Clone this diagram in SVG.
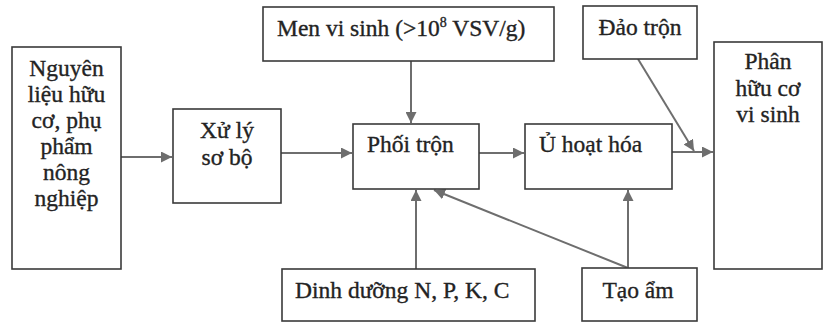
<svg xmlns="http://www.w3.org/2000/svg" width="825" height="323" viewBox="0 0 825 323">
<style>
.box{fill:#fff;stroke:#3a3a3a;stroke-width:1.6}
.t{font-family:"Liberation Serif","Times New Roman",serif;font-size:23.5px;fill:#232323;stroke:#232323;stroke-width:0.35}
.c{text-anchor:middle}
.ln{stroke:#6e6e6e;stroke-width:2;fill:none;marker-end:url(#ah)}
</style>
<defs>
<marker id="ah" viewBox="0 0 10 10" refX="10" refY="5" markerWidth="5.5" markerHeight="5.5" orient="auto" markerUnits="strokeWidth">
<path d="M0,0 L10,5 L0,10 z" fill="#6e6e6e"/>
</marker>
</defs>
<rect width="825" height="323" fill="#fff"/>
<g id="connectors">
<line class="ln" x1="121" y1="157" x2="172" y2="157"/>
<line class="ln" x1="281" y1="153" x2="352" y2="153"/>
<line class="ln" x1="411" y1="61" x2="411" y2="123"/>
<line class="ln" x1="479" y1="153" x2="524" y2="153"/>
<line class="ln" x1="672" y1="152" x2="713" y2="152"/>
<line class="ln" x1="638" y1="59" x2="694" y2="151"/>
<line class="ln" x1="416" y1="269" x2="416" y2="190"/>
<line class="ln" x1="628" y1="268" x2="628" y2="190"/>
<line class="ln" x1="628" y1="268" x2="434" y2="190"/>
</g>
<g id="n1">
<rect class="box" x="12" y="47" width="109" height="222"/>
<text class="t c" x="66.5" y="76">Nguyên</text>
<text class="t c" x="66.5" y="102">liệu hữu</text>
<text class="t c" x="66.5" y="128">cơ, phụ</text>
<text class="t c" x="66.5" y="154">phẩm</text>
<text class="t c" x="66.5" y="180">nông</text>
<text class="t c" x="66.5" y="206">nghiệp</text>
</g>
<g id="n2">
<rect class="box" x="173" y="109" width="108" height="94"/>
<text class="t c" x="227" y="138">Xử lý</text>
<text class="t c" x="227" y="165">sơ bộ</text>
</g>
<g id="n3">
<rect class="box" x="263" y="7" width="291" height="54"/>
<text class="t" x="277" y="36">Men vi sinh (&gt;10<tspan font-size="14" dy="-9">8</tspan><tspan dy="9"> VSV/g)</tspan></text>
</g>
<g id="n4">
<rect class="box" x="353" y="124" width="126" height="65"/>
<text class="t" x="367" y="152">Phối trộn</text>
</g>
<g id="n5">
<rect class="box" x="525" y="124" width="147" height="65"/>
<text class="t" x="539" y="152">Ủ hoạt hóa</text>
</g>
<g id="n6">
<rect class="box" x="583" y="6" width="114" height="53"/>
<text class="t c" x="640" y="35">Đảo trộn</text>
</g>
<g id="n7">
<rect class="box" x="714" y="42" width="108" height="227"/>
<text class="t c" x="768" y="69">Phân</text>
<text class="t c" x="768" y="96">hữu cơ</text>
<text class="t c" x="768" y="122">vi sinh</text>
</g>
<g id="n8">
<rect class="box" x="282" y="269" width="253" height="52"/>
<text class="t" x="295" y="298">Dinh dưỡng N, P, K, C</text>
</g>
<g id="n9">
<rect class="box" x="582" y="268" width="115" height="53"/>
<text class="t c" x="638" y="298">Tạo ẩm</text>
</g>
</svg>
